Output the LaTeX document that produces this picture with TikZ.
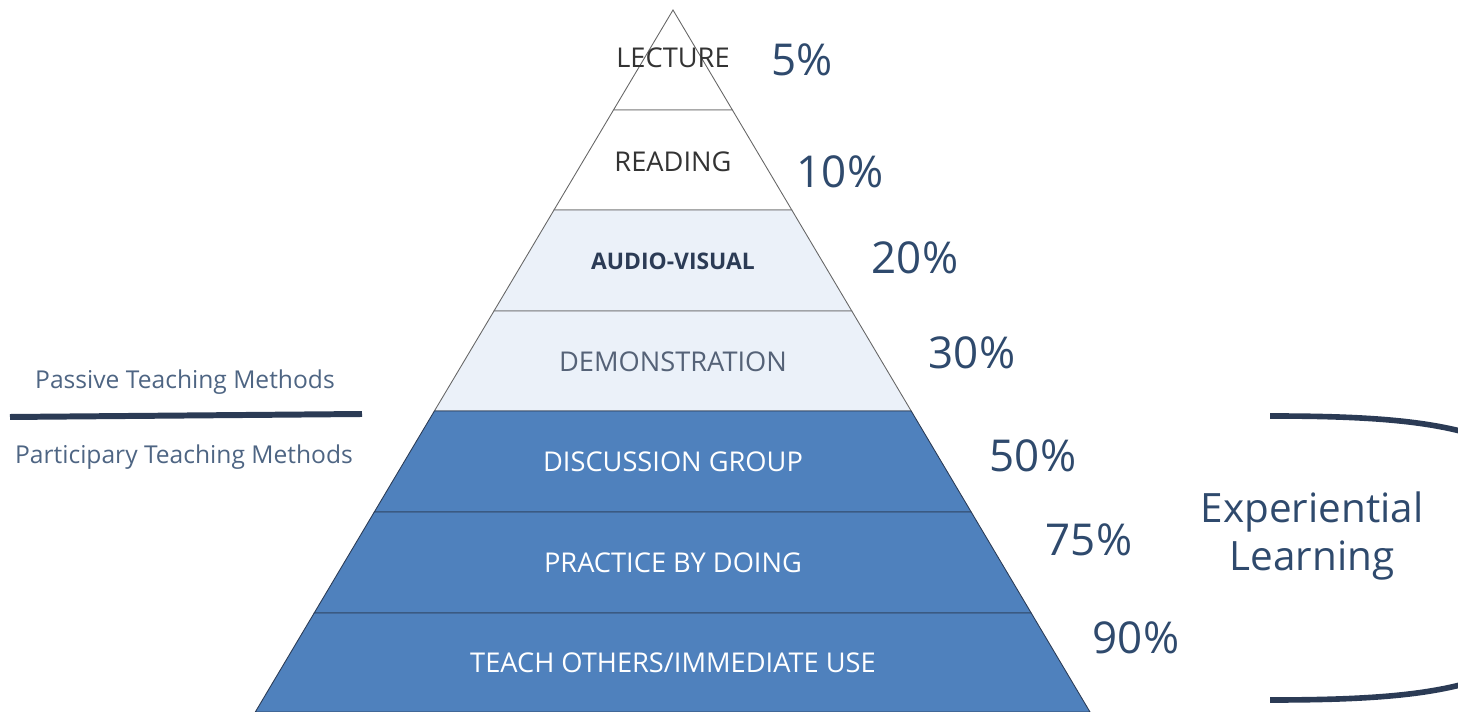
\documentclass[tikz,border=0pt]{standalone}
\usepackage{fontspec}
\setmainfont{Open Sans}
\usetikzlibrary{positioning}

\definecolor{pctblue}{HTML}{2F4A6D}
\definecolor{darkline}{HTML}{2B3B55}
\definecolor{paleblue}{HTML}{EBF1F9}
\definecolor{midblue}{HTML}{4F81BD}

\begin{document}
\begin{tikzpicture}
[
  x=0.02cm, y=-0.02cm,
  layer/.style = {draw=gray!80!black, line width=0.5pt},
  inlabel/.style = {font=\fontsize{15.5}{19}\selectfont},
  pct/.style = {text=pctblue, font=\fontsize{25}{30}\selectfont},
  side/.style = {text=pctblue!85!white, font=\fontsize{14}{17}\selectfont},
]
\useasboundingbox (0,0) rectangle (1458,712);

% corners of the pyramid
\coordinate (top) at (673,10);
\coordinate (L1) at (613.5,110);  \coordinate (R1) at (732.4,110);
\coordinate (L2) at (554,210);    \coordinate (R2) at (791.8,210);
\coordinate (L3) at (494,311);    \coordinate (R3) at (851.8,311);
\coordinate (L4) at (434.4,411);  \coordinate (R4) at (911.2,411);
\coordinate (L5) at (374.3,512);  \coordinate (R5) at (971.2,512);
\coordinate (L6) at (314.2,613);  \coordinate (R6) at (1031.2,613);
\coordinate (L7) at (255.3,712);  \coordinate (R7) at (1090,712);

% layers
\filldraw[layer, fill=white] (top) -- (R1) -- (L1) -- cycle;
\filldraw[layer, fill=white] (L1) -- (R1) -- (R2) -- (L2) -- cycle;
\filldraw[layer, fill=paleblue] (L2) -- (R2) -- (R3) -- (L3) -- cycle;
\filldraw[layer, fill=paleblue] (L3) -- (R3) -- (R4) -- (L4) -- cycle;
\filldraw[layer, draw=darkline, fill=midblue] (L4) -- (R4) -- (R5) -- (L5) -- cycle;
\filldraw[layer, draw=darkline, fill=midblue] (L5) -- (R5) -- (R6) -- (L6) -- cycle;
\filldraw[layer, draw=darkline, fill=midblue] (L6) -- (R6) -- (R7) -- (L7) -- cycle;

% labels inside
\node (lecture) at (673,58) [inlabel, text=black!80] {LECTURE};
\node (reading) at (673,162) [inlabel, text=black!80] {READING};
\node (audio) at (673,261) [text=darkline, font=\fontsize{13}{16}\selectfont\bfseries] {AUDIO-VISUAL};
\node (demo) at (673,362) [inlabel, text=darkline!80] {DEMONSTRATION};
\node (discuss) at (673,462) [inlabel, text=white] {DISCUSSION GROUP};
\node (practice) at (673,563) [inlabel, text=white] {PRACTICE BY DOING};
\node (teach) at (673,663) [inlabel, text=white] {TEACH OTHERS/IMMEDIATE USE};

% percentages
\node (p5) at (802,60) [pct] {5\%};
\node (p10) at (840,172) [pct] {10\%};
\node (p20) at (915,258) [pct] {20\%};
\node (p30) at (972,353) [pct] {30\%};
\node (p50) at (1033,456) [pct] {50\%};
\node (p75) at (1089,540) [pct] {75\%};
\node (p90) at (1136,638) [pct] {90\%};

% passive / participary
\node (passive) at (185,382) [side] {Passive Teaching Methods};
\node (partic) at (184,457) [side] {Participary Teaching Methods};
\coordinate (divA) at (10,417);
\coordinate (divB) at (362,414);
\draw[darkline, line width=3.4pt] (divA) -- (divB);

% experiential learning
\node (exp) at (1312,536) [text=pctblue, align=center, font=\fontsize{23}{27}\selectfont] {Experiential\\Learning};
\begin{scope}
\clip (0,0) rectangle (1458,712);
\coordinate (brA) at (1270,416);
\coordinate (brB) at (1270,700);
\draw[darkline, line width=3.2pt] (brA) .. controls (1380,416) and (1440,422) .. (1490,440);
\draw[darkline, line width=3.2pt] (brB) .. controls (1380,700) and (1440,694) .. (1490,676);
\end{scope}

\end{tikzpicture}
\end{document}
